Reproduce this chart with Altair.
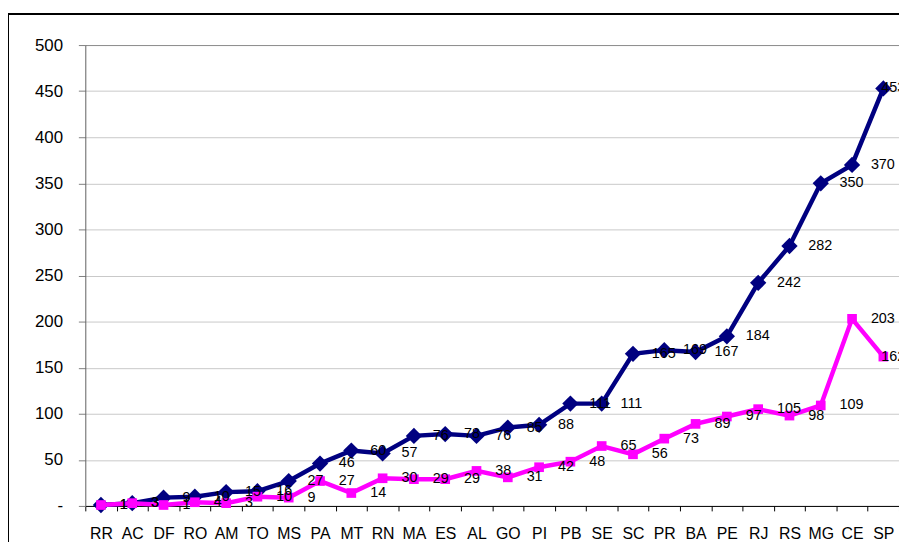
import altair as alt
import pandas as pd

cats = ["RR", "AC", "DF", "RO", "AM", "TO", "MS", "PA", "MT", "RN", "MA", "ES", "AL",
        "GO", "PI", "PB", "SE", "SC", "PR", "BA", "PE", "RJ", "RS", "MG", "CE", "SP"]
navy_vals = [1, 3, 9, 10, 15, 16, 27, 46, 60, 57, 76, 78, 76, 85, 88, 111, 111,
             165, 169, 167, 184, 242, 282, 350, 370, 453]
magenta_vals = [1, 3, 1, 4, 3, 10, 9, 27, 14, 30, 29, 29, 38, 31, 42, 48, 65,
                56, 73, 89, 97, 105, 98, 109, 203, 162]
y_ticks = [0, 50, 100, 150, 200, 250, 300, 350, 400, 450, 500]

FONT = "Liberation Sans"
W, H = 821, 465

df_n = pd.DataFrame({"cat": cats, "v": navy_vals})
df_m = pd.DataFrame({"cat": cats, "v": magenta_vals})

xenc = alt.X("cat:N", sort=cats, title=None,
             scale=alt.Scale(type="band", paddingInner=0, paddingOuter=0),
             axis=alt.Axis(labelAngle=0, tickBand="extent", tickSize=5,
                           tickColor="#000000", domainColor="#000000",
                           labelFont=FONT, labelFontSize=16, labelColor="#000000",
                           labelPadding=15, grid=False))
yenc = alt.Y("v:Q", title=None,
             scale=alt.Scale(domain=[0, 500], nice=False, zero=True),
             axis=alt.Axis(values=y_ticks, tickSize=7, tickColor="#808080",
                           domainColor="#606060", labelFont=FONT, labelFontSize=17,
                           labelColor="#000000", labelPadding=16,
                           labelExpr="datum.value == 0 ? '-\u00a0\u00a0\u00a0\u00a0' : datum.label",
                           grid=True,
                           gridColor={"condition": {"test": "datum.value === 500", "value": "#8a8a8a"},
                                      "value": "#c8c8c8"},
                           gridWidth=1))

def series(df, color, shape, size):
    base = alt.Chart(df).encode(x=xenc, y=yenc)
    line = base.mark_line(color=color, strokeWidth=4.5)
    pts = base.mark_point(shape=shape, size=size, filled=True, color=color, opacity=1)
    txt = base.transform_filter("datum.cat != 'SP'").mark_text(
        align="left", baseline="middle", dx=19, font=FONT,
        fontSize=14.5, color="#000000").encode(text="v:Q")
    txt_end = base.transform_filter("datum.cat == 'SP'").mark_text(
        align="left", baseline="middle", dx=-2, font=FONT,
        fontSize=14.5, color="#000000").encode(text="v:Q")
    return [line, pts], [txt, txt_end]

n_marks, n_txt = series(df_n, "#000080", "diamond", 270)
m_marks, m_txt = series(df_m, "#FF00FF", "square", 95)

frame_left = alt.Chart(df_n).mark_rule(color="#000000", strokeWidth=1).encode(
    x=alt.value(-77.5), y=alt.value(-32), y2=alt.value(H + 40))
frame_top = alt.Chart(df_n).mark_rule(color="#000000", strokeWidth=1).encode(
    x=alt.value(-78), x2=alt.value(W + 5), y=alt.value(-31.5))

chart = alt.layer(*n_marks, *m_marks, *n_txt, *m_txt, frame_left, frame_top).properties(
    width=W, height=H,
    padding={"left": 78, "top": 35, "right": 0, "bottom": 34},
    autosize=alt.AutoSizeParams(type="none"),
    background="#ffffff",
).configure_view(stroke=None)

chart.save("out.html", embed_options={"renderer": "svg", "actions": False})
